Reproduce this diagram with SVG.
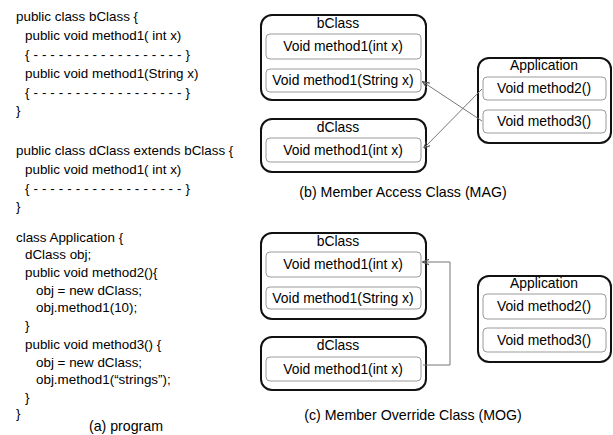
<svg xmlns="http://www.w3.org/2000/svg" width="613" height="435" viewBox="0 0 613 435">
<style>
.code{font-family:"Liberation Sans",Arial,sans-serif;font-size:13.4px;fill:#000}
.t{font-family:"Liberation Sans",Arial,sans-serif;font-size:13.9px;fill:#000;text-anchor:middle}
.cap{font-family:"Liberation Sans",Arial,sans-serif;font-size:14.2px;fill:#000;text-anchor:middle}
.outer{fill:#fff;stroke:#111;stroke-width:2}
.inner{fill:#fff;stroke:#9a9a9a;stroke-width:1}
.con{fill:none;stroke:#777;stroke-width:1}
</style>
<defs>
<marker id="ah" viewBox="0 0 10 10" refX="9" refY="5" markerWidth="7" markerHeight="7" orient="auto-start-reverse" markerUnits="userSpaceOnUse">
<path d="M0,1 L10,5 L0,9" fill="none" stroke="#555" stroke-width="1.5"/>
</marker>
</defs>
<rect width="613" height="435" fill="#fff"/>
<g id="program">
<text class="code" x="16" y="21">public class bClass {</text>
<text class="code" x="25" y="40">public void method1( int x)</text>
<text class="code" x="25" y="59" textLength="165" lengthAdjust="spacing">{ - - - - - - - - - - - - - - - - - - }</text>
<text class="code" x="25" y="78">public void method1(String x)</text>
<text class="code" x="25" y="97" textLength="165" lengthAdjust="spacing">{ - - - - - - - - - - - - - - - - - - }</text>
<text class="code" x="16" y="115">}</text>
<text class="code" x="16" y="155">public class dClass extends bClass {</text>
<text class="code" x="25" y="174">public void method1( int x)</text>
<text class="code" x="25" y="193" textLength="165" lengthAdjust="spacing">{ - - - - - - - - - - - - - - - - - - }</text>
<text class="code" x="16" y="211">}</text>
<text class="code" x="16" y="242">class Application {</text>
<text class="code" x="25" y="259">dClass obj;</text>
<text class="code" x="25" y="277">public void method2(){</text>
<text class="code" x="36" y="295">obj = new dClass;</text>
<text class="code" x="36" y="312">obj.method1(10);</text>
<text class="code" x="25" y="330">}</text>
<text class="code" x="25" y="349">public void method3() {</text>
<text class="code" x="36" y="367">obj = new dClass;</text>
<text class="code" x="36" y="384">obj.method1(“strings”);</text>
<text class="code" x="25" y="402">}</text>
<text class="code" x="16" y="418">}</text>
<text class="cap" x="126" y="431">(a) program</text>
</g>
<g id="mag-bClass">
<rect class="outer" x="261" y="15" width="165" height="85" rx="11"/>
<text class="t" x="338" y="28">bClass</text>
<rect class="inner" x="266" y="34" width="155" height="25" rx="4"/>
<text class="t" x="343" y="51">Void method1(int x)</text>
<rect class="inner" x="266" y="69" width="155" height="23" rx="4"/>
<text class="t" x="343" y="85">Void method1(String x)</text>
</g>
<g id="mag-dClass">
<rect class="outer" x="261" y="119" width="165" height="53" rx="11"/>
<text class="t" x="338" y="132">dClass</text>
<rect class="inner" x="266" y="138" width="155" height="24" rx="4"/>
<text class="t" x="343" y="155">Void method1(int x)</text>
</g>
<g id="mag-Application">
<rect class="outer" x="478" y="58" width="133" height="85" rx="11"/>
<text class="t" x="544" y="70">Application</text>
<rect class="inner" x="483" y="77" width="123" height="23" rx="4"/>
<text class="t" x="544" y="93">Void method2()</text>
<rect class="inner" x="483" y="110" width="123" height="23" rx="4"/>
<text class="t" x="544" y="126">Void method3()</text>
</g>
<text class="cap" x="403" y="197">(b) Member Access Class (MAG)</text>
<g id="mog-bClass">
<rect class="outer" x="261" y="233" width="165" height="86" rx="11"/>
<text class="t" x="338" y="246">bClass</text>
<rect class="inner" x="266" y="252" width="155" height="25" rx="4"/>
<text class="t" x="343" y="269">Void method1(int x)</text>
<rect class="inner" x="266" y="287" width="155" height="22" rx="4"/>
<text class="t" x="343" y="303">Void method1(String x)</text>
</g>
<g id="mog-dClass">
<rect class="outer" x="261" y="337" width="165" height="53" rx="11"/>
<text class="t" x="338" y="350">dClass</text>
<rect class="inner" x="266" y="357" width="155" height="24" rx="4"/>
<text class="t" x="343" y="374">Void method1(int x)</text>
</g>
<g id="mog-Application">
<rect class="outer" x="478" y="276" width="133" height="86" rx="11"/>
<text class="t" x="544" y="288">Application</text>
<rect class="inner" x="483" y="294" width="123" height="25" rx="4"/>
<text class="t" x="544" y="311">Void method2()</text>
<rect class="inner" x="483" y="328" width="123" height="24" rx="4"/>
<text class="t" x="544" y="345">Void method3()</text>
</g>
<text class="cap" x="413" y="420">(c) Member Override Class (MOG)</text>
<g id="connectors">
<line class="con" x1="482" y1="121" x2="423" y2="82" marker-end="url(#ah)"/>
<line class="con" x1="482" y1="89" x2="424" y2="148" marker-end="url(#ah)"/>
<polyline class="con" points="423,365 450,365 450,262 423,262" marker-end="url(#ah)"/>
</g>
</svg>
